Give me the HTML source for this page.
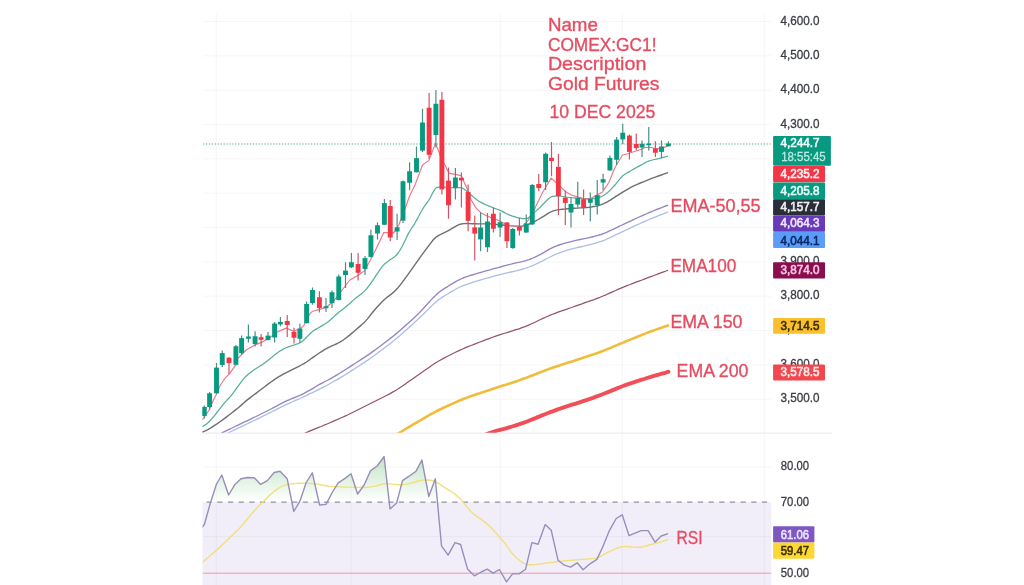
<!DOCTYPE html>
<html lang="en">
<head>
<meta charset="utf-8">
<title>COMEX:GC1! Gold Futures - 10 DEC 2025</title>
<style>
html,body{margin:0;padding:0;background:#fff;}
body{width:1024px;height:585px;overflow:hidden;font-family:"Liberation Sans",sans-serif;}
svg{display:block;}
#chart{filter:blur(0.6px);}
.tick{font-family:"Liberation Sans",sans-serif;font-size:12px;fill:#3b3d45;stroke:#3b3d45;stroke-width:0.3px;}
.lab{font-family:"Liberation Sans",sans-serif;font-size:12.3px;fill:#fff;stroke-width:0.6px;}
.note{font-family:"Liberation Sans",sans-serif;font-size:17.5px;fill:#e64b60;stroke:#e64b60;stroke-width:0.32px;}
</style>
</head>
<body>
<svg width="1024" height="585" viewBox="0 0 1024 585">
<defs>
<linearGradient id="ob" gradientUnits="userSpaceOnUse" x1="0" y1="395.6" x2="0" y2="502.1">
<stop offset="0" stop-color="#4caf50" stop-opacity="0.78"/>
<stop offset="1" stop-color="#4caf50" stop-opacity="0"/>
</linearGradient>
<clipPath id="mainclip"><rect x="202.3" y="12" width="569" height="420.7"/></clipPath>
<clipPath id="rsiclip"><rect x="202.5" y="434" width="569" height="151"/></clipPath>
<clipPath id="above70"><rect x="202.5" y="434" width="569" height="68.1"/></clipPath>
</defs>
<rect width="1024" height="585" fill="#ffffff"/>
<g id="chart">

<g id="rsi-band"><rect x="202.5" y="502.1" width="568.7" height="83" fill="#7e57c2" fill-opacity="0.1"/></g>
<g id="grid" stroke="#2a2e39" stroke-opacity="0.045" stroke-width="1" fill="none">
<line x1="203" y1="21.50" x2="771" y2="21.50"/>
<line x1="203" y1="55.84" x2="771" y2="55.84"/>
<line x1="203" y1="90.18" x2="771" y2="90.18"/>
<line x1="203" y1="124.52" x2="771" y2="124.52"/>
<line x1="203" y1="158.86" x2="771" y2="158.86"/>
<line x1="203" y1="193.20" x2="771" y2="193.20"/>
<line x1="203" y1="227.54" x2="771" y2="227.54"/>
<line x1="203" y1="261.88" x2="771" y2="261.88"/>
<line x1="203" y1="296.22" x2="771" y2="296.22"/>
<line x1="203" y1="330.56" x2="771" y2="330.56"/>
<line x1="203" y1="364.90" x2="771" y2="364.90"/>
<line x1="203" y1="399.24" x2="771" y2="399.24"/>
<line x1="203" y1="466.90" x2="771" y2="466.90"/>
<line x1="203" y1="536.60" x2="771" y2="536.60"/>
<line x1="216.3" y1="13" x2="216.3" y2="585"/>
<line x1="351.2" y1="13" x2="351.2" y2="585"/>
<line x1="500.4" y1="13" x2="500.4" y2="585"/>
<line x1="622.3" y1="13" x2="622.3" y2="585"/>
<line x1="764.4" y1="13" x2="764.4" y2="585"/>
</g>
<line id="pane-sep" x1="203" y1="433.1" x2="832" y2="433.1" stroke="#ebecef" stroke-width="1.1"/>
<g id="emas" clip-path="url(#mainclip)">
<polyline points="482.0,436.3 485.0,434.9 488.0,433.6 491.0,432.5 494.0,431.6 497.0,430.7 500.0,429.9 503.0,429.1 506.0,428.3 509.0,427.4 512.0,426.5 515.0,425.6 518.0,424.6 521.0,423.6 524.0,422.6 527.0,421.5 530.0,420.3 533.0,419.1 536.0,417.9 539.0,416.6 542.0,415.4 545.0,414.2 548.0,413.0 551.0,411.9 554.0,410.8 557.0,409.7 560.0,408.7 563.0,407.7 566.0,406.7 569.0,405.7 572.0,404.7 575.0,403.8 578.0,402.8 581.0,401.8 584.0,400.8 587.0,399.8 590.0,398.8 593.0,397.8 596.0,396.7 599.0,395.6 602.0,394.5 605.0,393.3 608.0,392.1 611.0,390.9 614.0,389.6 617.0,388.4 620.0,387.2 623.0,386.0 626.0,384.9 629.0,383.8 632.0,382.8 635.0,381.8 638.0,380.9 641.0,379.9 644.0,379.0 647.0,378.0 650.0,377.1 653.0,376.2 656.0,375.3 659.0,374.5 662.0,373.6 665.0,372.8 668.0,371.9 668.5,371.8" fill="none" stroke="#f04f58" stroke-width="3.9" stroke-linejoin="round" stroke-linecap="round" />
<polyline points="395.0,435.4 398.0,433.6 401.0,431.8 404.0,430.0 407.0,428.2 410.0,426.4 413.0,424.6 416.0,422.8 419.0,421.1 422.0,419.3 425.0,417.6 428.0,415.9 431.0,414.2 434.0,412.6 437.0,411.0 440.0,409.5 443.0,408.0 446.0,406.6 449.0,405.2 452.0,403.9 455.0,402.6 458.0,401.3 461.0,400.0 464.0,398.8 467.0,397.6 470.0,396.5 473.0,395.4 476.0,394.4 479.0,393.4 482.0,392.4 485.0,391.4 488.0,390.4 491.0,389.5 494.0,388.5 497.0,387.6 500.0,386.6 503.0,385.6 506.0,384.7 509.0,383.7 512.0,382.7 515.0,381.7 518.0,380.7 521.0,379.6 524.0,378.6 527.0,377.5 530.0,376.3 533.0,375.2 536.0,374.0 539.0,372.8 542.0,371.6 545.0,370.5 548.0,369.4 551.0,368.3 554.0,367.2 557.0,366.2 560.0,365.2 563.0,364.2 566.0,363.3 569.0,362.3 572.0,361.4 575.0,360.4 578.0,359.4 581.0,358.5 584.0,357.5 587.0,356.6 590.0,355.6 593.0,354.6 596.0,353.5 599.0,352.5 602.0,351.3 605.0,350.1 608.0,348.9 611.0,347.7 614.0,346.4 617.0,345.1 620.0,343.8 623.0,342.6 626.0,341.3 629.0,340.1 632.0,338.9 635.0,337.7 638.0,336.5 641.0,335.3 644.0,334.1 647.0,332.9 650.0,331.8 653.0,330.7 656.0,329.6 659.0,328.5 662.0,327.5 665.0,326.4 668.0,325.4" fill="none" stroke="#f0bc3a" stroke-width="2.6" stroke-linejoin="round" stroke-linecap="round" />
<polyline points="303.0,434.2 306.0,432.7 309.0,431.4 312.0,430.1 315.0,428.9 318.0,427.7 321.0,426.5 324.0,425.2 327.0,424.0 330.0,422.7 333.0,421.4 336.0,420.1 339.0,418.8 342.0,417.5 345.0,416.1 348.0,414.7 351.0,413.2 354.0,411.7 357.0,410.2 360.0,408.7 363.0,407.2 366.0,405.7 369.0,404.2 372.0,402.7 375.0,401.2 378.0,399.7 381.0,398.2 384.0,396.7 387.0,395.2 390.0,393.6 393.0,391.9 396.0,390.2 399.0,388.3 402.0,386.3 405.0,384.2 408.0,382.1 411.0,380.0 414.0,377.9 417.0,375.8 420.0,373.7 423.0,371.6 426.0,369.5 429.0,367.4 432.0,365.3 435.0,363.3 438.0,361.5 441.0,359.7 444.0,358.1 447.0,356.5 450.0,355.0 453.0,353.5 456.0,352.0 459.0,350.6 462.0,349.2 465.0,347.9 468.0,346.7 471.0,345.5 474.0,344.3 477.0,343.2 480.0,342.0 483.0,340.9 486.0,339.7 489.0,338.6 492.0,337.5 495.0,336.4 498.0,335.4 501.0,334.4 504.0,333.5 507.0,332.6 510.0,331.6 513.0,330.7 516.0,329.7 519.0,328.8 522.0,327.7 525.0,326.6 528.0,325.4 531.0,324.0 534.0,322.7 537.0,321.2 540.0,319.8 543.0,318.4 546.0,317.0 549.0,315.7 552.0,314.5 555.0,313.3 558.0,312.2 561.0,311.2 564.0,310.1 567.0,309.1 570.0,308.0 573.0,307.0 576.0,305.9 579.0,304.8 582.0,303.8 585.0,302.7 588.0,301.7 591.0,300.6 594.0,299.6 597.0,298.4 600.0,297.3 603.0,296.0 606.0,294.8 609.0,293.4 612.0,292.1 615.0,290.8 618.0,289.4 621.0,288.1 624.0,286.9 627.0,285.6 630.0,284.5 633.0,283.3 636.0,282.2 639.0,281.1 642.0,280.0 645.0,278.8 648.0,277.7 651.0,276.6 654.0,275.5 657.0,274.4 660.0,273.2 663.0,272.1 666.0,271.0 667.5,270.4" fill="none" stroke="#975272" stroke-width="1.25" stroke-linejoin="round" stroke-linecap="round" />
<polyline points="226.0,434.1 229.0,432.5 232.0,431.0 235.0,429.6 238.0,428.2 241.0,426.8 244.0,425.3 247.0,423.9 250.0,422.4 253.0,421.0 256.0,419.6 259.0,418.1 262.0,416.7 265.0,415.2 268.0,413.7 271.0,412.2 274.0,410.6 277.0,409.1 280.0,407.6 283.0,406.2 286.0,404.7 289.0,403.3 292.0,402.0 295.0,400.7 298.0,399.3 301.0,398.0 304.0,396.6 307.0,395.2 310.0,393.7 313.0,392.3 316.0,390.8 319.0,389.3 322.0,387.8 325.0,386.3 328.0,384.7 331.0,383.0 334.0,381.3 337.0,379.6 340.0,377.9 343.0,376.1 346.0,374.3 349.0,372.4 352.0,370.4 355.0,368.5 358.0,366.5 361.0,364.6 364.0,362.6 367.0,360.6 370.0,358.6 373.0,356.4 376.0,354.2 379.0,352.0 382.0,349.7 385.0,347.5 388.0,345.2 391.0,342.9 394.0,340.5 397.0,338.1 400.0,335.5 403.0,332.8 406.0,330.1 409.0,327.4 412.0,324.7 415.0,322.0 418.0,319.2 421.0,316.4 424.0,313.5 427.0,310.5 430.0,307.5 433.0,304.6 436.0,302.0 439.0,299.6 442.0,297.4 445.0,295.5 448.0,293.7 451.0,291.9 454.0,290.2 457.0,288.5 460.0,287.0 463.0,285.7 466.0,284.6 469.0,283.6 472.0,282.6 475.0,281.6 478.0,280.7 481.0,279.8 484.0,278.9 487.0,278.1 490.0,277.3 493.0,276.4 496.0,275.6 499.0,274.8 502.0,274.1 505.0,273.4 508.0,272.7 511.0,272.0 514.0,271.3 517.0,270.6 520.0,269.8 523.0,269.0 526.0,268.1 529.0,267.0 532.0,265.8 535.0,264.5 538.0,263.2 541.0,261.7 544.0,260.1 547.0,258.5 550.0,257.0 553.0,255.5 556.0,254.2 559.0,253.0 562.0,251.8 565.0,250.8 568.0,249.9 571.0,249.1 574.0,248.4 577.0,247.7 580.0,247.0 583.0,246.3 586.0,245.6 589.0,244.9 592.0,244.1 595.0,243.3 598.0,242.4 601.0,241.4 604.0,240.3 607.0,239.0 610.0,237.6 613.0,236.2 616.0,234.7 619.0,233.3 622.0,231.9 625.0,230.5 628.0,229.1 631.0,227.6 634.0,226.2 637.0,224.8 640.0,223.5 643.0,222.1 646.0,220.8 649.0,219.5 652.0,218.3 655.0,217.1 658.0,215.9 661.0,214.7 664.0,213.6 667.0,212.4 667.5,212.2" fill="none" stroke="#aabfe8" stroke-width="1.3" stroke-linejoin="round" stroke-linecap="round" />
<polyline points="220.0,434.1 223.0,432.4 226.0,430.9 229.0,429.4 232.0,428.0 235.0,426.5 238.0,425.1 241.0,423.7 244.0,422.2 247.0,420.8 250.0,419.4 253.0,417.9 256.0,416.5 259.0,415.0 262.0,413.5 265.0,412.0 268.0,410.5 271.0,409.0 274.0,407.4 277.0,405.9 280.0,404.2 283.0,402.6 286.0,401.1 289.0,399.8 292.0,398.5 295.0,397.3 298.0,396.1 301.0,394.8 304.0,393.3 307.0,391.7 310.0,390.1 313.0,388.3 316.0,386.5 319.0,384.7 322.0,383.1 325.0,381.5 328.0,380.0 331.0,378.3 334.0,376.6 337.0,374.8 340.0,373.0 343.0,371.2 346.0,369.3 349.0,367.4 352.0,365.4 355.0,363.5 358.0,361.5 361.0,359.6 364.0,357.6 367.0,355.6 370.0,353.6 373.0,351.4 376.0,349.2 379.0,347.0 382.0,344.7 385.0,342.5 388.0,340.2 391.0,337.9 394.0,335.5 397.0,333.1 400.0,330.5 403.0,327.8 406.0,325.1 409.0,322.4 412.0,319.7 415.0,316.9 418.0,314.1 421.0,311.0 424.0,307.8 427.0,304.5 430.0,301.1 433.0,297.9 436.0,294.9 439.0,292.3 442.0,290.1 445.0,288.1 448.0,286.3 451.0,284.4 454.0,282.6 457.0,280.8 460.0,279.3 463.0,278.0 466.0,276.9 469.0,275.9 472.0,275.0 475.0,274.1 478.0,273.2 481.0,272.3 484.0,271.4 487.0,270.6 490.0,269.8 493.0,268.9 496.0,268.1 499.0,267.3 502.0,266.5 505.0,265.7 508.0,264.9 511.0,264.2 514.0,263.4 517.0,262.7 520.0,262.1 523.0,261.4 526.0,260.6 529.0,259.7 532.0,258.5 535.0,257.2 538.0,255.7 541.0,254.1 544.0,252.4 547.0,250.6 550.0,248.9 553.0,247.3 556.0,246.1 559.0,245.0 562.0,244.1 565.0,243.2 568.0,242.4 571.0,241.6 574.0,240.9 577.0,240.2 580.0,239.5 583.0,238.9 586.0,238.3 589.0,237.6 592.0,237.0 595.0,236.2 598.0,235.4 601.0,234.5 604.0,233.4 607.0,232.1 610.0,230.7 613.0,229.3 616.0,227.8 619.0,226.4 622.0,225.0 625.0,223.6 628.0,222.2 631.0,220.8 634.0,219.4 637.0,218.0 640.0,216.7 643.0,215.3 646.0,214.0 649.0,212.7 652.0,211.5 655.0,210.2 658.0,209.0 661.0,207.9 664.0,206.7 667.0,205.5 667.5,205.3" fill="none" stroke="#9685c0" stroke-width="1.35" stroke-linejoin="round" stroke-linecap="round" />
<polyline points="202.3,432.2 205.3,430.8 208.3,429.3 211.3,427.6 214.3,425.6 217.3,423.6 220.3,421.5 223.3,419.4 226.3,417.1 229.3,414.8 232.3,412.5 235.3,410.1 238.3,407.7 241.3,405.1 244.3,402.4 247.3,399.9 250.3,397.6 253.3,395.3 256.3,393.1 259.3,390.8 262.3,388.5 265.3,386.2 268.3,383.9 271.3,381.7 274.3,379.6 277.3,377.7 280.3,375.9 283.3,374.2 286.3,372.6 289.3,371.1 292.3,369.6 295.3,368.1 298.3,366.6 301.3,365.0 304.3,363.4 307.3,361.5 310.3,359.3 313.3,357.1 316.3,355.0 319.3,353.0 322.3,351.1 325.3,349.2 328.3,347.6 331.3,346.2 334.3,344.9 337.3,343.5 340.3,341.9 343.3,340.0 346.3,337.7 349.3,335.4 352.3,332.9 355.3,330.2 358.3,327.6 361.3,325.1 364.3,322.4 367.3,319.1 370.3,315.3 373.3,311.5 376.3,308.0 379.3,304.7 382.3,301.6 385.3,298.8 388.3,296.4 391.3,294.1 394.3,291.6 397.3,288.6 400.3,284.9 403.3,280.9 406.3,276.8 409.3,272.6 412.3,268.4 415.3,264.2 418.3,259.9 421.3,255.7 424.3,251.6 427.3,247.6 430.3,243.6 433.3,239.8 436.3,236.9 439.3,235.1 442.3,233.6 445.3,232.2 448.3,230.6 451.3,228.9 454.3,227.1 457.3,225.4 460.3,224.2 463.3,223.6 466.3,223.5 469.3,223.6 472.3,223.7 475.3,223.8 478.3,223.9 481.3,223.9 484.3,223.9 487.3,223.8 490.3,223.9 493.3,224.1 496.3,224.4 499.3,224.7 502.3,225.0 505.3,225.3 508.3,225.6 511.3,225.9 514.3,226.1 517.3,226.2 520.3,226.2 523.3,226.0 526.3,225.3 529.3,224.0 532.3,222.6 535.3,221.1 538.3,219.5 541.3,217.7 544.3,215.8 547.3,213.8 550.3,212.1 553.3,210.9 556.3,210.1 559.3,209.6 562.3,209.2 565.3,209.0 568.3,208.7 571.3,208.5 574.3,208.3 577.3,208.1 580.3,207.9 583.3,207.7 586.3,207.5 589.3,207.2 592.3,206.8 595.3,206.3 598.3,205.7 601.3,204.7 604.3,203.4 607.3,201.9 610.3,200.1 613.3,198.2 616.3,196.2 619.3,194.3 622.3,192.4 625.3,190.6 628.3,188.8 631.3,187.1 634.3,185.6 637.3,184.3 640.3,183.0 643.3,181.8 646.3,180.6 649.3,179.4 652.3,178.2 655.3,177.1 658.3,176.0 661.3,175.0 664.3,173.9 667.3,172.8 667.5,172.8" fill="none" stroke="#6e6f73" stroke-width="1.4" stroke-linejoin="round" stroke-linecap="round" />
<polyline points="202.5,426.7 204.5,425.3 206.5,423.9 208.5,422.2 210.5,420.2 212.5,418.0 214.5,415.6 216.5,413.0 218.5,410.4 220.5,407.8 222.5,405.3 224.5,402.8 226.5,400.6 228.5,398.5 230.5,396.3 232.5,393.9 234.5,391.2 236.5,388.4 238.5,385.6 240.5,382.8 242.5,380.1 244.5,377.8 246.5,375.8 248.5,374.0 250.5,372.4 252.5,370.9 254.5,369.5 256.5,368.2 258.5,367.0 260.5,365.8 262.5,364.6 264.5,363.1 266.5,361.5 268.5,359.9 270.5,358.3 272.5,356.7 274.5,355.0 276.5,353.4 278.5,352.0 280.5,350.8 282.5,349.6 284.5,348.5 286.5,347.6 288.5,346.8 290.5,346.2 292.5,345.5 294.5,344.9 296.5,344.2 298.5,343.5 300.5,342.5 302.5,341.1 304.5,339.2 306.5,337.2 308.5,335.3 310.5,333.3 312.5,331.5 314.5,330.1 316.5,328.9 318.5,327.8 320.5,326.6 322.5,325.4 324.5,324.2 326.5,323.0 328.5,321.5 330.5,319.8 332.5,318.0 334.5,316.1 336.5,314.3 338.5,312.6 340.5,311.0 342.5,309.5 344.5,308.0 346.5,306.3 348.5,304.6 350.5,302.7 352.5,300.9 354.5,299.1 356.5,297.5 358.5,295.9 360.5,294.4 362.5,292.9 364.5,291.1 366.5,288.9 368.5,286.3 370.5,283.7 372.5,280.8 374.5,277.9 376.5,274.9 378.5,271.9 380.5,268.9 382.5,266.2 384.5,264.0 386.5,262.4 388.5,261.0 390.5,259.6 392.5,258.2 394.5,256.8 396.5,255.1 398.5,252.5 400.5,249.3 402.5,245.7 404.5,241.7 406.5,237.4 408.5,233.4 410.5,230.0 412.5,226.9 414.5,223.8 416.5,220.4 418.5,216.7 420.5,212.8 422.5,209.2 424.5,206.2 426.5,203.4 428.5,200.6 430.5,197.2 432.5,193.2 434.5,189.6 436.5,187.6 438.5,187.1 440.5,187.1 442.5,187.1 444.5,187.2 446.5,187.3 448.5,187.4 450.5,187.5 452.5,187.5 454.5,187.5 456.5,187.5 458.5,187.5 460.5,187.6 462.5,188.1 464.5,189.4 466.5,191.0 468.5,192.8 470.5,194.5 472.5,196.3 474.5,198.0 476.5,199.6 478.5,201.0 480.5,202.1 482.5,203.1 484.5,204.1 486.5,205.0 488.5,205.9 490.5,206.7 492.5,207.5 494.5,208.3 496.5,209.0 498.5,209.7 500.5,210.5 502.5,211.4 504.5,212.6 506.5,213.7 508.5,214.6 510.5,215.4 512.5,216.1 514.5,216.7 516.5,217.3 518.5,217.8 520.5,218.2 522.5,218.6 524.5,218.7 526.5,218.6 528.5,217.7 530.5,216.1 532.5,214.3 534.5,212.4 536.5,210.6 538.5,208.8 540.5,206.9 542.5,204.8 544.5,202.7 546.5,200.7 548.5,198.8 550.5,197.3 552.5,196.4 554.5,196.2 556.5,196.1 558.5,196.1 560.5,196.2 562.5,196.5 564.5,196.9 566.5,197.2 568.5,197.4 570.5,197.5 572.5,197.7 574.5,197.8 576.5,198.0 578.5,198.2 580.5,198.4 582.5,198.6 584.5,198.7 586.5,198.7 588.5,198.7 590.5,198.7 592.5,198.7 594.5,198.6 596.5,198.2 598.5,197.6 600.5,196.9 602.5,196.0 604.5,194.8 606.5,193.4 608.5,191.8 610.5,189.9 612.5,187.7 614.5,185.5 616.5,183.1 618.5,180.6 620.5,178.2 622.5,176.1 624.5,174.5 626.5,173.3 628.5,172.1 630.5,171.0 632.5,169.8 634.5,168.6 636.5,167.5 638.5,166.4 640.5,165.4 642.5,164.3 644.5,163.1 646.5,162.0 648.5,161.1 650.5,160.5 652.5,160.0 654.5,159.5 656.5,159.1 658.5,158.7 660.5,158.2 662.5,157.7 664.5,157.1 666.5,156.5 667.5,156.2" fill="none" stroke="#58ae9c" stroke-width="1.25" stroke-linejoin="round" stroke-linecap="round" />
<polyline points="202.5,419.5 206.2,414.5 209.4,409.5 212.5,402.0 216.0,395.0 220.0,385.8 225.0,378.2 229.4,373.9 235.0,365.8 237.5,358.8 246.2,350.0 255.0,345.0 262.5,341.9 270.0,337.5 277.5,331.9 286.2,328.1 293.8,331.2 300.0,328.8 303.8,325.6 310.0,313.8 312.5,311.2 318.8,309.6 326.0,307.5 333.5,301.2 342.2,290.0 349.8,280.0 358.5,275.0 364.8,270.6 371.0,258.8 376.0,249.0 383.8,232.5 393.8,232.8 398.8,225.0 405.0,208.8 409.6,196.0 415.0,185.0 422.5,165.0 428.8,160.6 435.6,143.1 441.9,160.0 445.0,165.0 448.8,173.1 461.2,175.6 468.1,191.0 471.2,200.0 476.2,208.1 481.2,213.1 487.5,216.2 497.5,220.0 507.5,225.0 515.0,226.2 521.2,227.5 527.5,221.2 535.0,208.1 542.5,192.5 551.2,178.1 558.8,185.0 565.0,191.2 571.2,195.0 577.5,196.9 583.8,198.8 590.2,198.8 596.2,195.6 602.5,191.9 608.8,182.5 615.0,167.5 622.5,155.0 628.8,153.5 635.0,151.2 642.5,149.0 645.0,147.5 650.0,147.2 656.2,148.8 662.5,148.1 668.1,145.6" fill="none" stroke="#e97887" stroke-width="1.15" stroke-linejoin="round" stroke-linecap="round" />
</g>
<line id="price-line" x1="203" y1="144" x2="770.5" y2="144" stroke="#5aa599" stroke-width="1.15" stroke-dasharray="1.3 1.62"/>
<g id="candles" clip-path="url(#mainclip)">
<line x1="204.30" y1="405.50" x2="204.30" y2="418.50" stroke="#4a8f84" stroke-width="1.2"/>
<rect x="201.85" y="406.90" width="4.9" height="9.10" fill="#089981"/>
<line x1="209.60" y1="392.00" x2="209.60" y2="409.50" stroke="#4a8f84" stroke-width="1.2"/>
<rect x="207.15" y="393.30" width="4.9" height="13.70" fill="#089981"/>
<line x1="216.50" y1="363.00" x2="216.50" y2="394.00" stroke="#4a8f84" stroke-width="1.2"/>
<rect x="214.05" y="367.60" width="4.9" height="25.70" fill="#089981"/>
<line x1="222.25" y1="350.60" x2="222.25" y2="366.90" stroke="#4a8f84" stroke-width="1.2"/>
<rect x="219.80" y="353.10" width="4.9" height="11.90" fill="#089981"/>
<line x1="229.00" y1="356.90" x2="229.00" y2="373.90" stroke="#d25468" stroke-width="1.2"/>
<rect x="226.55" y="357.75" width="4.9" height="5.35" fill="#F23645"/>
<line x1="235.90" y1="345.00" x2="235.90" y2="365.50" stroke="#4a8f84" stroke-width="1.2"/>
<rect x="233.45" y="346.25" width="4.9" height="18.50" fill="#089981"/>
<line x1="241.60" y1="335.60" x2="241.60" y2="355.00" stroke="#4a8f84" stroke-width="1.2"/>
<rect x="239.15" y="338.10" width="4.9" height="15.00" fill="#089981"/>
<line x1="248.40" y1="324.40" x2="248.40" y2="342.50" stroke="#4a8f84" stroke-width="1.2"/>
<rect x="245.95" y="336.50" width="4.9" height="2.25" fill="#089981"/>
<line x1="255.10" y1="331.25" x2="255.10" y2="346.50" stroke="#4a8f84" stroke-width="1.2"/>
<rect x="252.65" y="336.25" width="4.9" height="7.75" fill="#089981"/>
<line x1="261.10" y1="334.00" x2="261.10" y2="346.50" stroke="#d25468" stroke-width="1.2"/>
<rect x="258.65" y="337.25" width="4.9" height="2.50" fill="#F23645"/>
<line x1="268.00" y1="331.90" x2="268.00" y2="340.60" stroke="#4a8f84" stroke-width="1.2"/>
<rect x="265.55" y="335.60" width="4.9" height="4.40" fill="#089981"/>
<line x1="274.60" y1="321.90" x2="274.60" y2="342.50" stroke="#4a8f84" stroke-width="1.2"/>
<rect x="272.15" y="323.50" width="4.9" height="14.00" fill="#089981"/>
<line x1="280.40" y1="316.90" x2="280.40" y2="326.25" stroke="#4a8f84" stroke-width="1.2"/>
<rect x="277.95" y="321.90" width="4.9" height="2.50" fill="#089981"/>
<line x1="287.25" y1="315.00" x2="287.25" y2="336.90" stroke="#d25468" stroke-width="1.2"/>
<rect x="284.80" y="321.00" width="4.9" height="4.00" fill="#F23645"/>
<line x1="294.00" y1="327.75" x2="294.00" y2="343.50" stroke="#d25468" stroke-width="1.2"/>
<rect x="291.55" y="331.90" width="4.9" height="5.85" fill="#F23645"/>
<line x1="299.90" y1="323.75" x2="299.90" y2="343.10" stroke="#4a8f84" stroke-width="1.2"/>
<rect x="297.45" y="328.50" width="4.9" height="10.25" fill="#089981"/>
<line x1="306.60" y1="301.50" x2="306.60" y2="323.50" stroke="#4a8f84" stroke-width="1.2"/>
<rect x="304.15" y="304.00" width="4.9" height="19.10" fill="#089981"/>
<line x1="312.50" y1="287.50" x2="312.50" y2="304.75" stroke="#4a8f84" stroke-width="1.2"/>
<rect x="310.05" y="290.00" width="4.9" height="13.10" fill="#089981"/>
<line x1="319.40" y1="291.25" x2="319.40" y2="312.50" stroke="#d25468" stroke-width="1.2"/>
<rect x="316.95" y="297.25" width="4.9" height="10.85" fill="#F23645"/>
<line x1="326.00" y1="298.10" x2="326.00" y2="311.90" stroke="#4a8f84" stroke-width="1.2"/>
<rect x="323.55" y="306.30" width="4.9" height="1.90" fill="#089981"/>
<line x1="332.00" y1="290.60" x2="332.00" y2="308.10" stroke="#4a8f84" stroke-width="1.2"/>
<rect x="329.55" y="292.25" width="4.9" height="10.85" fill="#089981"/>
<line x1="338.75" y1="274.40" x2="338.75" y2="300.60" stroke="#4a8f84" stroke-width="1.2"/>
<rect x="336.30" y="276.50" width="4.9" height="23.50" fill="#089981"/>
<line x1="345.50" y1="262.25" x2="345.50" y2="288.10" stroke="#4a8f84" stroke-width="1.2"/>
<rect x="343.05" y="270.60" width="4.9" height="4.40" fill="#089981"/>
<line x1="351.40" y1="253.10" x2="351.40" y2="268.10" stroke="#4a8f84" stroke-width="1.2"/>
<rect x="348.95" y="262.25" width="4.9" height="5.00" fill="#089981"/>
<line x1="358.10" y1="253.10" x2="358.10" y2="280.60" stroke="#d25468" stroke-width="1.2"/>
<rect x="355.65" y="264.00" width="4.9" height="8.75" fill="#F23645"/>
<line x1="365.00" y1="256.00" x2="365.00" y2="275.00" stroke="#4a8f84" stroke-width="1.2"/>
<rect x="362.55" y="258.10" width="4.9" height="10.90" fill="#089981"/>
<line x1="370.90" y1="229.40" x2="370.90" y2="257.50" stroke="#4a8f84" stroke-width="1.2"/>
<rect x="368.45" y="235.25" width="4.9" height="21.65" fill="#089981"/>
<line x1="377.50" y1="222.25" x2="377.50" y2="239.40" stroke="#4a8f84" stroke-width="1.2"/>
<rect x="375.05" y="225.25" width="4.9" height="8.25" fill="#089981"/>
<line x1="384.40" y1="199.00" x2="384.40" y2="225.00" stroke="#4a8f84" stroke-width="1.2"/>
<rect x="381.95" y="203.10" width="4.9" height="21.65" fill="#089981"/>
<line x1="390.25" y1="200.00" x2="390.25" y2="241.25" stroke="#d25468" stroke-width="1.2"/>
<rect x="387.80" y="206.00" width="4.9" height="31.50" fill="#F23645"/>
<line x1="397.10" y1="213.75" x2="397.10" y2="240.00" stroke="#4a8f84" stroke-width="1.2"/>
<rect x="394.65" y="227.25" width="4.9" height="4.25" fill="#089981"/>
<line x1="403.00" y1="180.60" x2="403.00" y2="223.10" stroke="#4a8f84" stroke-width="1.2"/>
<rect x="400.55" y="181.25" width="4.9" height="39.35" fill="#089981"/>
<line x1="409.60" y1="162.25" x2="409.60" y2="190.25" stroke="#4a8f84" stroke-width="1.2"/>
<rect x="407.15" y="171.25" width="4.9" height="11.50" fill="#089981"/>
<line x1="416.50" y1="146.50" x2="416.50" y2="172.50" stroke="#4a8f84" stroke-width="1.2"/>
<rect x="414.05" y="158.10" width="4.9" height="14.15" fill="#089981"/>
<line x1="422.50" y1="108.75" x2="422.50" y2="151.90" stroke="#4a8f84" stroke-width="1.2"/>
<rect x="420.05" y="122.50" width="4.9" height="28.10" fill="#089981"/>
<line x1="429.10" y1="93.10" x2="429.10" y2="158.75" stroke="#d25468" stroke-width="1.2"/>
<rect x="426.65" y="107.75" width="4.9" height="47.00" fill="#F23645"/>
<line x1="435.90" y1="90.00" x2="435.90" y2="147.50" stroke="#4a8f84" stroke-width="1.2"/>
<rect x="433.45" y="103.75" width="4.9" height="31.25" fill="#089981"/>
<line x1="441.90" y1="91.90" x2="441.90" y2="194.50" stroke="#d25468" stroke-width="1.2"/>
<rect x="439.45" y="99.75" width="4.9" height="89.65" fill="#F23645"/>
<line x1="448.50" y1="167.50" x2="448.50" y2="218.75" stroke="#d25468" stroke-width="1.2"/>
<rect x="446.05" y="180.60" width="4.9" height="24.65" fill="#F23645"/>
<line x1="455.40" y1="168.10" x2="455.40" y2="199.40" stroke="#4a8f84" stroke-width="1.2"/>
<rect x="452.95" y="177.50" width="4.9" height="10.60" fill="#089981"/>
<line x1="461.40" y1="172.50" x2="461.40" y2="207.60" stroke="#d25468" stroke-width="1.2"/>
<rect x="458.95" y="177.75" width="4.9" height="2.65" fill="#F23645"/>
<line x1="468.10" y1="184.40" x2="468.10" y2="231.25" stroke="#d25468" stroke-width="1.2"/>
<rect x="465.65" y="191.90" width="4.9" height="28.90" fill="#F23645"/>
<line x1="474.75" y1="215.60" x2="474.75" y2="260.60" stroke="#d25468" stroke-width="1.2"/>
<rect x="472.30" y="227.40" width="4.9" height="6.20" fill="#F23645"/>
<line x1="480.60" y1="212.50" x2="480.60" y2="251.25" stroke="#4a8f84" stroke-width="1.2"/>
<rect x="478.15" y="227.50" width="4.9" height="11.90" fill="#089981"/>
<line x1="487.50" y1="213.10" x2="487.50" y2="251.90" stroke="#4a8f84" stroke-width="1.2"/>
<rect x="485.05" y="221.50" width="4.9" height="25.75" fill="#089981"/>
<line x1="493.40" y1="207.50" x2="493.40" y2="232.50" stroke="#d25468" stroke-width="1.2"/>
<rect x="490.95" y="213.75" width="4.9" height="15.00" fill="#F23645"/>
<line x1="500.10" y1="212.50" x2="500.10" y2="236.90" stroke="#4a8f84" stroke-width="1.2"/>
<rect x="497.65" y="222.25" width="4.9" height="5.25" fill="#089981"/>
<line x1="506.90" y1="222.00" x2="506.90" y2="248.10" stroke="#d25468" stroke-width="1.2"/>
<rect x="504.45" y="222.50" width="4.9" height="18.75" fill="#F23645"/>
<line x1="512.75" y1="228.00" x2="512.75" y2="248.75" stroke="#4a8f84" stroke-width="1.2"/>
<rect x="510.30" y="229.00" width="4.9" height="19.10" fill="#089981"/>
<line x1="519.40" y1="217.75" x2="519.40" y2="235.60" stroke="#d25468" stroke-width="1.2"/>
<rect x="516.95" y="227.00" width="4.9" height="3.60" fill="#F23645"/>
<line x1="526.25" y1="214.40" x2="526.25" y2="233.00" stroke="#4a8f84" stroke-width="1.2"/>
<rect x="523.80" y="223.50" width="4.9" height="9.00" fill="#089981"/>
<line x1="532.25" y1="184.00" x2="532.25" y2="225.00" stroke="#4a8f84" stroke-width="1.2"/>
<rect x="529.80" y="185.00" width="4.9" height="39.40" fill="#089981"/>
<line x1="538.75" y1="174.00" x2="538.75" y2="191.25" stroke="#d25468" stroke-width="1.2"/>
<rect x="536.30" y="184.00" width="4.9" height="4.10" fill="#F23645"/>
<line x1="545.60" y1="152.50" x2="545.60" y2="190.00" stroke="#4a8f84" stroke-width="1.2"/>
<rect x="543.15" y="153.75" width="4.9" height="28.50" fill="#089981"/>
<line x1="551.50" y1="141.90" x2="551.50" y2="176.25" stroke="#d25468" stroke-width="1.2"/>
<rect x="549.05" y="157.75" width="4.9" height="3.25" fill="#F23645"/>
<line x1="558.40" y1="153.75" x2="558.40" y2="215.30" stroke="#d25468" stroke-width="1.2"/>
<rect x="555.95" y="166.90" width="4.9" height="29.10" fill="#F23645"/>
<line x1="565.30" y1="190.60" x2="565.30" y2="225.10" stroke="#d25468" stroke-width="1.2"/>
<rect x="562.85" y="197.75" width="4.9" height="5.15" fill="#F23645"/>
<line x1="571.00" y1="197.50" x2="571.00" y2="227.50" stroke="#4a8f84" stroke-width="1.2"/>
<rect x="568.55" y="204.00" width="4.9" height="8.50" fill="#089981"/>
<line x1="577.75" y1="181.70" x2="577.75" y2="207.50" stroke="#4a8f84" stroke-width="1.2"/>
<rect x="575.30" y="198.10" width="4.9" height="6.40" fill="#089981"/>
<line x1="583.60" y1="189.40" x2="583.60" y2="215.00" stroke="#d25468" stroke-width="1.2"/>
<rect x="581.15" y="199.20" width="4.9" height="8.55" fill="#F23645"/>
<line x1="590.30" y1="192.50" x2="590.30" y2="221.25" stroke="#4a8f84" stroke-width="1.2"/>
<rect x="587.85" y="199.00" width="4.9" height="3.80" fill="#089981"/>
<line x1="597.25" y1="179.90" x2="597.25" y2="214.40" stroke="#4a8f84" stroke-width="1.2"/>
<rect x="594.80" y="195.10" width="4.9" height="9.90" fill="#089981"/>
<line x1="603.10" y1="173.75" x2="603.10" y2="190.00" stroke="#4a8f84" stroke-width="1.2"/>
<rect x="600.65" y="179.20" width="4.9" height="3.30" fill="#089981"/>
<line x1="609.90" y1="155.60" x2="609.90" y2="171.00" stroke="#4a8f84" stroke-width="1.2"/>
<rect x="607.45" y="157.90" width="4.9" height="12.50" fill="#089981"/>
<line x1="616.60" y1="136.90" x2="616.60" y2="165.00" stroke="#4a8f84" stroke-width="1.2"/>
<rect x="614.15" y="139.60" width="4.9" height="20.15" fill="#089981"/>
<line x1="622.75" y1="123.75" x2="622.75" y2="144.00" stroke="#4a8f84" stroke-width="1.2"/>
<rect x="620.30" y="132.75" width="4.9" height="6.65" fill="#089981"/>
<line x1="629.40" y1="134.50" x2="629.40" y2="159.40" stroke="#d25468" stroke-width="1.2"/>
<rect x="626.95" y="135.60" width="4.9" height="16.30" fill="#F23645"/>
<line x1="636.25" y1="133.50" x2="636.25" y2="150.00" stroke="#d25468" stroke-width="1.2"/>
<rect x="633.80" y="144.00" width="4.9" height="4.10" fill="#F23645"/>
<line x1="642.00" y1="140.60" x2="642.00" y2="156.90" stroke="#4a8f84" stroke-width="1.2"/>
<rect x="639.55" y="143.75" width="4.9" height="3.75" fill="#089981"/>
<line x1="648.75" y1="126.90" x2="648.75" y2="150.60" stroke="#4a8f84" stroke-width="1.2"/>
<rect x="646.30" y="143.50" width="4.9" height="1.75" fill="#089981"/>
<line x1="655.40" y1="141.25" x2="655.40" y2="156.90" stroke="#d25468" stroke-width="1.2"/>
<rect x="652.95" y="148.50" width="4.9" height="4.25" fill="#F23645"/>
<line x1="661.50" y1="140.60" x2="661.50" y2="158.10" stroke="#4a8f84" stroke-width="1.2"/>
<rect x="659.05" y="146.50" width="4.9" height="5.40" fill="#089981"/>
<line x1="668.40" y1="141.25" x2="668.40" y2="146.50" stroke="#4a8f84" stroke-width="1.2"/>
<rect x="665.95" y="143.50" width="4.9" height="2.75" fill="#089981"/>
</g>
<g id="rsi" clip-path="url(#rsiclip)">
<polygon points="202.5,527.0 204.5,524.0 210.4,503.0 216.5,484.0 221.8,475.0 228.6,495.0 235.0,484.4 241.0,478.8 247.5,477.5 254.3,477.8 260.6,484.4 267.4,480.6 274.2,472.5 280.0,471.2 287.2,478.8 293.8,511.5 299.9,501.2 306.2,482.5 312.3,472.8 319.6,505.0 326.0,504.4 332.2,492.5 338.2,482.8 345.4,478.1 351.0,473.8 357.6,494.0 364.1,485.0 370.6,470.6 377.2,466.0 384.1,456.5 390.0,509.0 396.6,503.1 402.5,480.6 409.1,476.2 416.0,471.2 421.9,460.0 428.8,496.5 435.3,478.8 441.5,545.8 448.1,555.1 455.0,542.6 460.6,544.5 467.5,568.9 474.4,575.8 481.2,572.0 487.2,569.2 493.1,573.2 499.4,569.5 506.5,581.8 512.5,573.9 519.0,573.9 525.6,569.2 531.9,542.6 538.1,544.2 545.2,524.6 551.2,530.2 558.0,560.2 564.4,565.2 570.6,567.2 577.2,562.8 583.1,569.8 590.0,563.8 596.9,559.4 602.5,547.5 609.4,530.6 616.2,518.5 622.2,514.8 629.0,535.6 635.0,533.1 641.2,530.6 648.1,530.6 655.0,542.2 661.2,536.0 667.5,533.8 667.5,502.1 202.5,502.1" fill="url(#ob)" clip-path="url(#above70)"/>
<line x1="206.6" y1="502.1" x2="771" y2="502.1" stroke="#6f727c" stroke-width="0.95" stroke-dasharray="5.2 5.48"/>
<line x1="203" y1="573.2" x2="771.5" y2="573.2" stroke="#ee98a8" stroke-width="1"/>
<polyline points="202.9,562.0 205.9,559.4 208.9,556.8 211.9,554.3 214.9,551.6 217.9,548.9 220.9,546.1 223.9,543.3 226.9,540.4 229.9,537.6 232.9,534.7 235.9,531.9 238.9,528.9 241.9,525.6 244.9,522.0 247.9,518.3 250.9,514.7 253.9,511.3 256.9,508.1 259.9,505.0 262.9,501.9 265.9,498.9 268.9,495.9 271.9,493.2 274.9,490.8 277.9,488.6 280.9,486.8 283.9,485.6 286.9,484.8 289.9,484.1 292.9,483.7 295.9,483.4 298.9,483.3 301.9,483.2 304.9,483.3 307.9,483.4 310.9,483.5 313.9,483.8 316.9,484.1 319.9,484.6 322.9,485.2 325.9,485.7 328.9,486.2 331.9,486.4 334.9,486.6 337.9,486.7 340.9,486.9 343.9,487.0 346.9,487.1 349.9,487.1 352.9,487.2 355.9,487.3 358.9,487.4 361.9,487.4 364.9,487.4 367.9,487.2 370.9,486.9 373.9,486.4 376.9,485.8 379.9,484.8 382.9,483.9 385.9,483.5 388.9,483.7 391.9,484.1 394.9,484.4 397.9,484.7 400.9,484.8 403.9,484.6 406.9,484.1 409.9,483.4 412.9,482.6 415.9,481.7 418.9,480.8 421.9,480.1 424.9,479.9 427.9,480.0 430.9,480.3 433.9,481.1 436.9,482.4 439.9,484.2 442.9,486.3 445.9,488.4 448.9,490.2 451.9,492.0 454.9,494.1 457.9,496.7 460.9,499.8 463.9,503.2 466.9,506.9 469.9,510.5 472.9,513.4 475.9,515.7 478.9,517.8 481.9,519.9 484.9,522.2 487.9,524.6 490.9,527.5 493.9,530.7 496.9,534.0 499.9,537.4 502.9,540.8 505.9,544.6 508.9,548.9 511.9,553.1 514.9,556.3 517.9,559.0 520.9,561.3 523.9,563.3 526.9,564.5 529.9,564.8 532.9,564.7 535.9,564.5 538.9,564.1 541.9,563.7 544.9,563.3 547.9,562.9 550.9,562.5 553.9,562.2 556.9,561.8 559.9,561.4 562.9,561.0 565.9,560.7 568.9,560.5 571.9,560.2 574.9,560.0 577.9,559.8 580.9,559.5 583.9,559.3 586.9,559.1 589.9,558.8 592.9,558.6 595.9,558.1 598.9,557.1 601.9,555.6 604.9,553.9 607.9,552.3 610.9,550.8 613.9,549.4 616.9,548.2 619.9,547.2 622.9,546.6 625.9,546.5 628.9,546.7 631.9,546.9 634.9,547.1 637.9,547.3 640.9,547.2 643.9,546.6 646.9,545.7 649.9,544.8 652.9,544.0 655.9,543.3 658.9,542.5 661.9,541.6 664.9,540.6 667.5,539.8" fill="none" stroke="#f1e07e" stroke-width="1.45" stroke-linejoin="round" stroke-linecap="round" />
<polyline points="202.5,527.0 204.5,524.0 210.4,503.0 216.5,484.0 221.8,475.0 228.6,495.0 235.0,484.4 241.0,478.8 247.5,477.5 254.3,477.8 260.6,484.4 267.4,480.6 274.2,472.5 280.0,471.2 287.2,478.8 293.8,511.5 299.9,501.2 306.2,482.5 312.3,472.8 319.6,505.0 326.0,504.4 332.2,492.5 338.2,482.8 345.4,478.1 351.0,473.8 357.6,494.0 364.1,485.0 370.6,470.6 377.2,466.0 384.1,456.5 390.0,509.0 396.6,503.1 402.5,480.6 409.1,476.2 416.0,471.2 421.9,460.0 428.8,496.5 435.3,478.8 441.5,545.8 448.1,555.1 455.0,542.6 460.6,544.5 467.5,568.9 474.4,575.8 481.2,572.0 487.2,569.2 493.1,573.2 499.4,569.5 506.5,581.8 512.5,573.9 519.0,573.9 525.6,569.2 531.9,542.6 538.1,544.2 545.2,524.6 551.2,530.2 558.0,560.2 564.4,565.2 570.6,567.2 577.2,562.8 583.1,569.8 590.0,563.8 596.9,559.4 602.5,547.5 609.4,530.6 616.2,518.5 622.2,514.8 629.0,535.6 635.0,533.1 641.2,530.6 648.1,530.6 655.0,542.2 661.2,536.0 667.5,533.8" fill="none" stroke="#968fbc" stroke-width="1.4" stroke-linejoin="round" stroke-linecap="round" />
</g>
<g id="ticks" class="tick">
<text x="780.6" y="24.55" textLength="39" lengthAdjust="spacingAndGlyphs">4,600.0</text>
<text x="780.6" y="58.89" textLength="39" lengthAdjust="spacingAndGlyphs">4,500.0</text>
<text x="780.6" y="93.23" textLength="39" lengthAdjust="spacingAndGlyphs">4,400.0</text>
<text x="780.6" y="127.57" textLength="39" lengthAdjust="spacingAndGlyphs">4,300.0</text>
<text x="780.6" y="264.93" textLength="39" lengthAdjust="spacingAndGlyphs">3,900.0</text>
<text x="780.6" y="299.27" textLength="39" lengthAdjust="spacingAndGlyphs">3,800.0</text>
<text x="780.6" y="333.01" textLength="39" lengthAdjust="spacingAndGlyphs">3,700.0</text>
<text x="780.6" y="367.95" textLength="39" lengthAdjust="spacingAndGlyphs">3,600.0</text>
<text x="780.6" y="402.29" textLength="39" lengthAdjust="spacingAndGlyphs">3,500.0</text>
<text x="780.8" y="470.30" textLength="28.3" lengthAdjust="spacingAndGlyphs">80.00</text>
<text x="780.8" y="506.20" textLength="28.3" lengthAdjust="spacingAndGlyphs">70.00</text>
<text x="780.8" y="576.60" textLength="28.3" lengthAdjust="spacingAndGlyphs">50.00</text>
</g>
<g id="labels">
<rect x="773.1" y="135.9" width="57.8" height="29.8" rx="1.2" fill="#089981"/>
<text class="lab" x="780.4" y="146.9" textLength="39.2" lengthAdjust="spacingAndGlyphs" style="fill:#eefffb;stroke:#eefffb">4,244.7</text>
<text class="lab" x="781.2" y="161.1" textLength="44.4" lengthAdjust="spacingAndGlyphs" style="fill:#b9ebe1;stroke:#b9ebe1;stroke-width:0.3px">18:55:45</text>
<rect x="773.1" y="166.1" width="51.9" height="16.2" rx="1" fill="#f23645"/><text class="lab" x="780.6" y="177.6" fill="#fff0f1" style="fill:#fff0f1;stroke:#fff0f1" textLength="39" lengthAdjust="spacingAndGlyphs">4,235.2</text>
<rect x="773.1" y="182.5" width="51.9" height="16.7" rx="1" fill="#089981"/><text class="lab" x="780.6" y="194.7" fill="#e8fffa" style="fill:#e8fffa;stroke:#e8fffa" textLength="39" lengthAdjust="spacingAndGlyphs">4,205.8</text>
<rect x="773.1" y="199.3" width="51.9" height="16.2" rx="1" fill="#2a2e39"/><text class="lab" x="780.6" y="210.5" fill="#f0f0f2" style="fill:#f0f0f2;stroke:#f0f0f2" textLength="39" lengthAdjust="spacingAndGlyphs">4,157.7</text>
<rect x="773.1" y="215.6" width="51.9" height="16.25" rx="1" fill="#673ab7"/><text class="lab" x="780.6" y="227.2" fill="#f1e6ff" style="fill:#f1e6ff;stroke:#f1e6ff" textLength="39" lengthAdjust="spacingAndGlyphs">4,064.3</text>
<rect x="773.1" y="231.9" width="51.9" height="16.2" rx="1" fill="#5b9cf6"/><text class="lab" x="780.6" y="244.8" fill="#0c2a66" style="fill:#0c2a66;stroke:#0c2a66" textLength="39" lengthAdjust="spacingAndGlyphs">4,044.1</text>
<rect x="773.1" y="262.2" width="51.9" height="16.3" rx="1" fill="#880e4f"/><text class="lab" x="780.6" y="273.6" fill="#fbc6e0" style="fill:#fbc6e0;stroke:#fbc6e0" textLength="39" lengthAdjust="spacingAndGlyphs">3,874.0</text>
<rect x="773.1" y="318.1" width="51.9" height="15.7" rx="1" fill="#fbc02d"/><text class="lab" x="780.6" y="329.8" fill="#3d2e05" style="fill:#3d2e05;stroke:#3d2e05" textLength="39" lengthAdjust="spacingAndGlyphs">3,714.5</text>
<rect x="773.1" y="364.6" width="51.9" height="16" rx="1" fill="#f3474f"/><text class="lab" x="780.6" y="376.1" fill="#ffe9ea" style="fill:#ffe9ea;stroke:#ffe9ea" textLength="39" lengthAdjust="spacingAndGlyphs">3,578.5</text>
<rect x="773.1" y="526.2" width="41.3" height="16.25" rx="1" fill="#7e57c2"/><text class="lab" x="780.8" y="538.8" fill="#ece2ff" style="fill:#ece2ff;stroke:#ece2ff" textLength="28.3" lengthAdjust="spacingAndGlyphs">61.06</text>
<rect x="773.1" y="542.4" width="41.3" height="16.3" rx="1" fill="#fdd835"/><text class="lab" x="780.8" y="555.1" fill="#3d2e05" style="fill:#3d2e05;stroke:#3d2e05" textLength="28.3" lengthAdjust="spacingAndGlyphs">59.47</text>
</g>
<g id="notes" class="note">
<text x="547.9" y="31.3" textLength="50" lengthAdjust="spacingAndGlyphs" style="font-size:17.7px">Name</text>
<text x="547.9" y="50.8" textLength="108.6" lengthAdjust="spacingAndGlyphs" style="font-size:17.7px">COMEX:GC1!</text>
<text x="547.9" y="70.3" textLength="98.5" lengthAdjust="spacingAndGlyphs" style="font-size:17.7px">Description</text>
<text x="547.9" y="89.8" textLength="111.6" lengthAdjust="spacingAndGlyphs" style="font-size:17.7px">Gold Futures</text>
<text x="549.4" y="117.8" textLength="106" lengthAdjust="spacingAndGlyphs" style="font-size:17.7px">10 DEC 2025</text>
<text x="670.4" y="211.8" textLength="90.2" lengthAdjust="spacingAndGlyphs" style="font-size:17.7px">EMA-50,55</text>
<text x="670.4" y="272.4" textLength="65.9" lengthAdjust="spacingAndGlyphs" style="font-size:17.7px">EMA100</text>
<text x="670.4" y="328.4" textLength="72.1" lengthAdjust="spacingAndGlyphs" style="font-size:17.7px">EMA 150</text>
<text x="676.6" y="376.7" textLength="71.8" lengthAdjust="spacingAndGlyphs" style="font-size:17.7px">EMA 200</text>
<text x="676.6" y="543.8" textLength="26" lengthAdjust="spacingAndGlyphs" style="font-size:17.7px">RSI</text>
</g>
</g>
</svg>
</body>
</html>
